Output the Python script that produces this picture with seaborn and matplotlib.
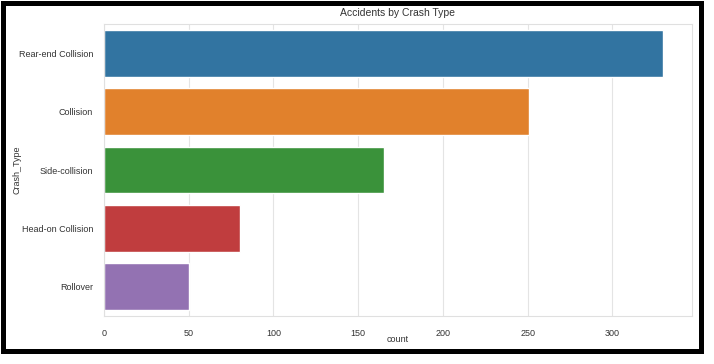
import matplotlib
matplotlib.use("Agg")
import matplotlib.pyplot as plt
import seaborn as sns
import pandas as pd
from matplotlib.patches import Rectangle

crash_types = ["Rear-end Collision", "Collision", "Side-collision", "Head-on Collision", "Rollover"]
counts = [330, 251, 165, 80, 50]

df = pd.DataFrame({"Crash_Type": crash_types, "count": counts})

sns.set_theme(style="whitegrid")
plt.rcParams['font.family'] = ['Liberation Sans', 'DejaVu Sans']

fig = plt.figure(figsize=(7.14, 3.64), dpi=100)
ax = fig.add_axes([104/714, 1-316/364, (692-104)/714, (316-24)/364])
sns.barplot(data=df, x="count", y="Crash_Type", hue="Crash_Type", palette="tab10",
            legend=False, ax=ax)
ax.set_xlim(0, 347)
ax.set_xticks([0, 50, 100, 150, 200, 250, 300])
ax.tick_params(labelsize=6.5, colors="#333333", pad=3)
ax.tick_params(axis="y", pad=2)
ax.set_title("Accidents by Crash Type", fontsize=7.5, color="#333333", pad=6)
ax.set_xlabel("count", fontsize=6.5, color="#333333")
ax.set_ylabel("Crash_Type", fontsize=6.5, color="#333333")
ax.xaxis.set_label_coords(0.5, -0.065)
ax.yaxis.set_label_coords(-0.14, 0.5)
ax.yaxis.grid(False)
ax.xaxis.grid(True, color="#e4e4e4", linewidth=0.8)
for s in ax.spines.values():
    s.set_color("#e0e0e0")
    s.set_linewidth(0.8)

# framed border as in screenshot
fig.patches.append(Rectangle((2.5/714, 1-350.5/364), 698/714, 348/364, transform=fig.transFigure,
                             fill=False, edgecolor="black", linewidth=3.6, zorder=10))
fig.savefig("out.png", dpi=100)
